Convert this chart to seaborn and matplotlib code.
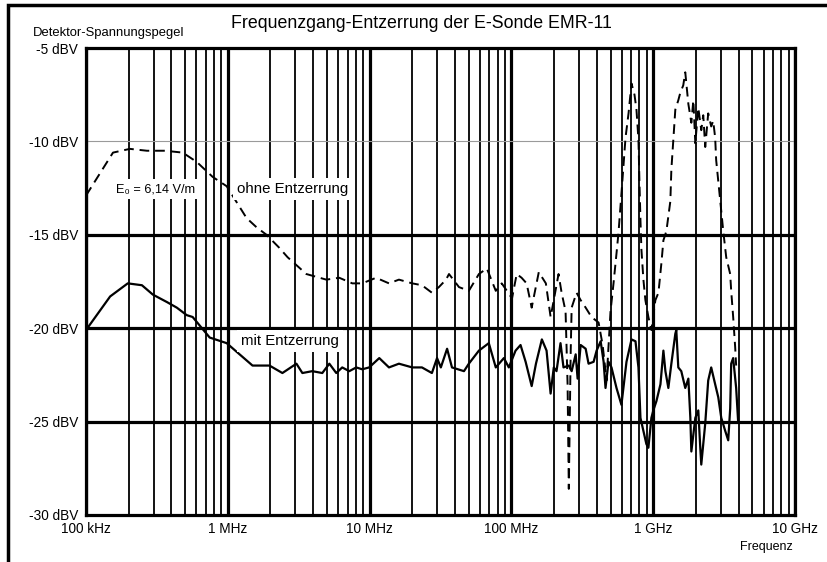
import numpy as np
import pandas as pd
import matplotlib
matplotlib.use("Agg")
import matplotlib.pyplot as plt
import seaborn as sns
from matplotlib.ticker import LogLocator, FixedLocator, FixedFormatter, NullFormatter
from matplotlib.patches import Rectangle

# ---- data (frequency in MHz, level in dBV) ----
ohne_freq_mhz = [0.1, 0.155, 0.204, 0.269, 0.36, 0.481, 0.604, 0.782, 0.982, 1.355, 1.596, 1.875, 2.31, 2.64,
                 3.58, 4.95, 6.11, 7.55, 8.87, 11.1, 13.7, 16.1, 20.0, 23.4, 27.5, 30.8, 34.6, 36.3, 42.7, 50.1,
                 59.0, 67.1, 77.6, 85.5, 101, 109, 118, 128, 139, 156, 175, 189, 199, 215, 226, 241, 249, 254,
                 262, 266, 288, 308, 334, 367, 412, 440, 469, 500, 525, 551, 569, 597, 638, 670, 703, 738, 762,
                 787, 800, 813, 826, 853, 881, 925, 971, 1036, 1089, 1143, 1180, 1239, 1321, 1343, 1387, 1432,
                 1503, 1552, 1629, 1683, 1770, 1858, 1919, 1982, 2080, 2183, 2254, 2328, 2443, 2565, 2649, 2735,
                 2780, 2972, 3119, 3273, 3491, 3548, 3664, 3784, 3846]
ohne_dbv = [-12.9, -10.6, -10.4, -10.5, -10.5, -10.6, -11.1, -11.9, -12.4, -14.1, -14.6, -15.0, -15.7, -16.2,
            -17.1, -17.4, -17.3, -17.6, -17.6, -17.3, -17.6, -17.4, -17.6, -17.7, -18.1, -17.8, -17.4, -17.1,
            -17.8, -18.0, -17.1, -16.8, -18.0, -17.6, -18.4, -17.1, -17.3, -17.6, -18.9, -17.0, -17.6, -19.4,
            -18.5, -17.1, -18.1, -19.1, -23.0, -28.6, -21.2, -18.9, -18.1, -18.5, -18.9, -19.4, -19.7, -20.9,
            -22.8, -19.1, -17.6, -16.0, -14.9, -12.8, -9.8, -8.5, -6.9, -7.5, -8.3, -9.9, -12.2, -14.2, -15.8,
            -17.4, -18.5, -19.4, -20.1, -18.5, -18.1, -16.5, -15.3, -14.8, -13.2, -11.5, -9.9, -8.3, -7.8, -7.4,
            -7.0, -6.3, -8.0, -9.0, -7.8, -10.1, -8.2, -9.4, -8.6, -10.3, -8.5, -9.2, -8.9, -9.8, -11.0, -13.2,
            -14.8, -16.2, -17.1, -18.0, -19.4, -21.0, -22.0]

mit_freq_mhz = [0.1, 0.148, 0.197, 0.248, 0.296, 0.372, 0.437, 0.513, 0.565, 0.745, 0.982, 1.494, 1.968, 2.427,
                3.048, 3.357, 3.945, 4.64, 5.20, 5.82, 6.41, 7.19, 8.05, 8.87, 9.93, 11.7, 13.7, 16.1, 20.0, 23.4,
                27.5, 29.9, 31.8, 35.2, 38.1, 46.3, 50.1, 59.0, 69.3, 77.6, 88.5, 95.9, 107, 116, 126, 139, 149,
                164, 177, 189, 199, 208, 222, 233, 254, 266, 284, 293, 308, 334, 350, 380, 399, 426, 447, 461,
                484, 508, 551, 597, 648, 703, 750, 787, 813, 853, 895, 925, 971, 1002, 1054, 1125, 1180, 1219,
                1279, 1343, 1432, 1455, 1503, 1578, 1683, 1770, 1828, 1858, 1982, 2080, 2148, 2183, 2328, 2443,
                2565, 2735, 2877, 3020, 3221, 3381, 3491, 3548, 3664, 3846, 3972]
mit_dbv = [-20.1, -18.3, -17.6, -17.7, -18.2, -18.6, -18.9, -19.3, -19.4, -20.5, -20.8, -22.0, -22.0, -22.4,
           -21.9, -22.4, -22.3, -22.4, -21.9, -22.4, -22.1, -22.3, -22.1, -22.2, -22.1, -21.6, -22.1, -21.9,
           -22.1, -22.1, -22.4, -21.6, -22.1, -21.1, -22.1, -22.3, -21.9, -21.2, -20.8, -22.1, -21.6, -22.1,
           -21.2, -20.9, -21.8, -23.1, -21.9, -20.6, -21.2, -23.5, -22.1, -22.3, -20.8, -22.1, -22.0, -22.3,
           -21.4, -22.7, -20.9, -21.1, -21.9, -21.8, -21.2, -20.7, -21.8, -23.2, -21.8, -22.1, -23.2, -24.1,
           -21.8, -20.6, -20.7, -22.1, -24.8, -25.5, -26.2, -26.4, -24.8, -24.4, -23.9, -23.0, -21.2, -22.3,
           -23.2, -21.9, -20.3, -20.1, -22.1, -22.3, -23.2, -22.7, -24.8, -26.6, -24.8, -24.4, -26.4, -27.3,
           -25.1, -22.8, -22.1, -23.0, -23.7, -24.8, -25.5, -26.0, -24.3, -21.9, -21.6, -23.2, -25.0]

x_tick_hz = [1e5, 1e6, 1e7, 1e8, 1e9, 1e10]
x_tick_labels = ["100 kHz", "1 MHz", "10 MHz", "100 MHz", "1 GHz", "10 GHz"]
y_ticks = [-30, -25, -20, -15, -10, -5]
y_tick_labels = ["-30 dBV", "-25 dBV", "-20 dBV", "-15 dBV", "-10 dBV", "-5 dBV"]

title = "Frequenzgang-Entzerrung der E-Sonde EMR-11"
y_title = "Detektor-Spannungspegel"
x_title = "Frequenz"
label_field = "E\u2080 = 6,14 V/m"
label_ohne = "ohne Entzerrung"
label_mit = "mit Entzerrung"

# ---- style ----
sns.set_style("white")
plt.rcParams['font.family'] = ['Liberation Sans', 'DejaVu Sans']

W, H = 828, 562
fig = plt.figure(figsize=(W / 100, H / 100), dpi=100)
fig.patch.set_facecolor("white")
ax = fig.add_axes([86 / W, 1 - 515 / H, 709 / W, 467 / H])
ax.set_xscale("log")

df_ohne = pd.DataFrame({"f": np.array(ohne_freq_mhz) * 1e6, "dbv": ohne_dbv})
df_mit = pd.DataFrame({"f": np.array(mit_freq_mhz) * 1e6, "dbv": mit_dbv})

sns.lineplot(data=df_ohne, x="f", y="dbv", ax=ax, color="black", lw=1.4,
             sort=False, estimator=None, zorder=6)
ax.lines[-1].set_dashes([5, 3])
sns.lineplot(data=df_mit, x="f", y="dbv", ax=ax, color="black", lw=1.6,
             sort=False, estimator=None, zorder=6)

ax.set_xlim(1e5, 1e10)
ax.set_ylim(-30, -5)

ax.xaxis.set_major_locator(FixedLocator(x_tick_hz))
ax.xaxis.set_major_formatter(FixedFormatter(x_tick_labels))
ax.xaxis.set_minor_locator(LogLocator(base=10, subs=np.arange(2, 10), numticks=50))
ax.xaxis.set_minor_formatter(NullFormatter())
ax.yaxis.set_major_locator(FixedLocator(y_ticks))
ax.yaxis.set_major_formatter(FixedFormatter(y_tick_labels))

ax.grid(False)
ax.grid(which="major", axis="x", color="black", lw=2.3, zorder=1)
ax.grid(which="minor", axis="x", color="black", lw=1.3, zorder=1)
ax.set_axisbelow(True)
for yv in [-15, -20, -25]:
    ax.axhline(yv, color="black", lw=2.3, zorder=1)
ax.axhline(-10, color="#9a9a9a", lw=0.8, zorder=1)

for s in ax.spines.values():
    s.set_visible(True)
    s.set_color("black")
    s.set_linewidth(2.3)

ax.tick_params(axis="both", which="major", direction="out", length=4, width=1.5,
               color="black", labelsize=9.8, labelcolor="black", pad=1.5)
ax.tick_params(axis="both", which="minor", length=0)
ax.tick_params(axis="x", which="major", pad=1)
ax.set_xlabel("")
ax.set_ylabel("")

# ---- texts ----
fig.text(421 / W, 1 - 24 / H, title, ha="center", va="center", fontsize=12.8, color="black")
fig.text(33 / W, 1 - 33 / H, y_title, ha="left", va="center", fontsize=9.4, color="black")
fig.text(793 / W, 1 - 547 / H, x_title, ha="right", va="center", fontsize=9, color="black")

box = dict(facecolor="white", edgecolor="none", pad=3)
fig.text(116 / W, 1 - 189 / H, label_field, ha="left", va="center", fontsize=9.2, color="black",
         bbox=box, zorder=3)
fig.text(237 / W, 1 - 189 / H, label_ohne, ha="left", va="center", fontsize=10.8, color="black",
         bbox=box, zorder=3)
fig.text(241 / W, 1 - 341 / H, label_mit, ha="left", va="center", fontsize=10.8, color="black",
         bbox=box, zorder=3)

# outer frame of the figure
fig.patches.append(Rectangle((8 / W, -0.05), 1.2, 1 - 5 / H + 0.05, transform=fig.transFigure,
                             fill=False, lw=2.5, ec="black", zorder=10))

fig.savefig("out.png", dpi=100, facecolor="white")
